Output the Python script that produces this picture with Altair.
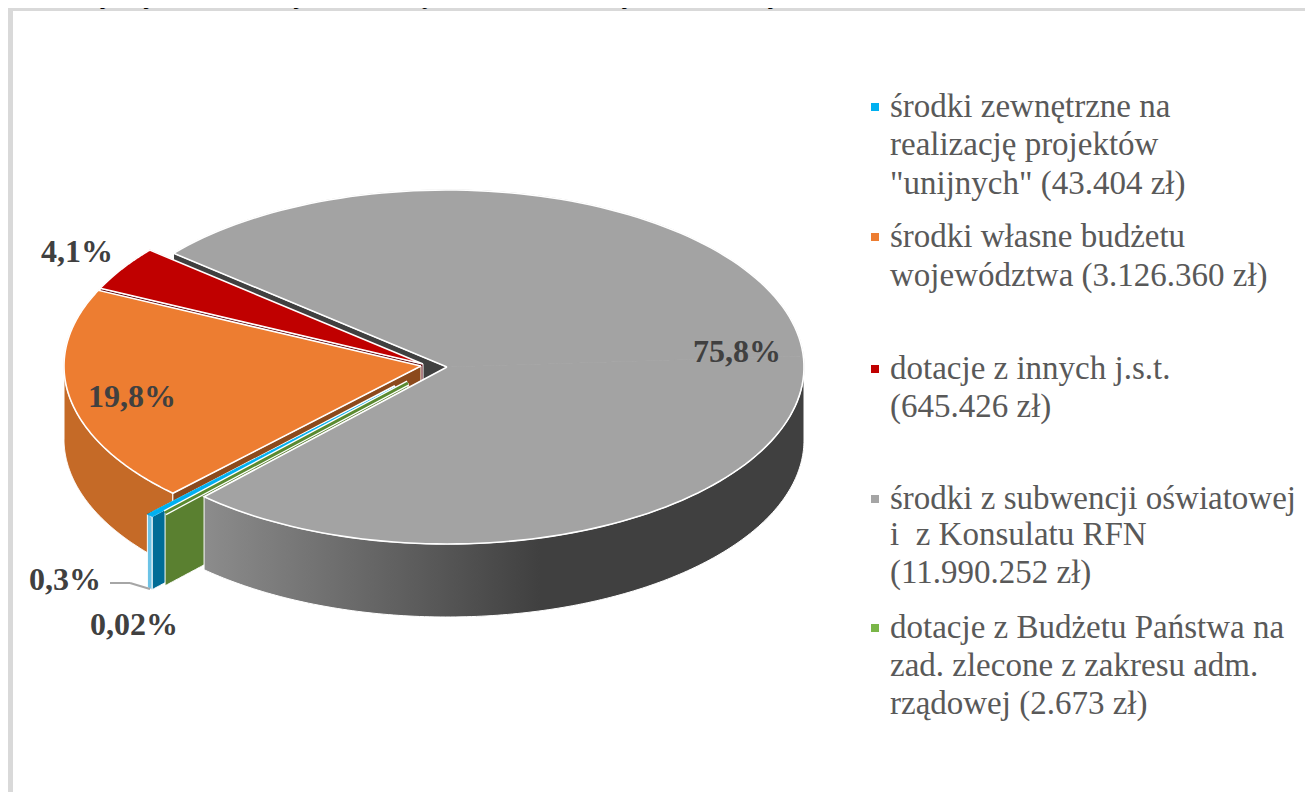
import math
import numpy as np
import pandas as pd
import altair as alt

# ---- data ----
slice_names = ["subwencja", "zagraniczne", "unijne", "wlasne", "jst"]
shares = [75.8, 0.02, 0.3, 19.8, 4.1]
pct_labels = ["75,8%", "19,8%", "4,1%", "0,3%", "0,02%"]
legend_lines = [
    ["środki zewnętrzne na", "realizację projektów", "\"unijnych\" (43.404 zł)"],
    ["środki własne budżetu", "województwa (3.126.360 zł)"],
    ["dotacje z innych j.s.t.", "(645.426 zł)"],
    ["środki z subwencji oświatowej", "i \u00a0z Konsulatu RFN", "(11.990.252 zł)"],
    ["dotacje z Budżetu Państwa na", "zad. zlecone z zakresu adm.", "rządowej (2.673 zł)"],
]
legend_colors = ["#00B0F0", "#ED7D31", "#C00000", "#A5A5A5", "#7AB648"]
caption = "Poniższy wykres obrazuje strukturę finansowania wydatków w tym obszarze."

# ---- layout ----
W, H = 1297, 784
RX, RY = 357.0, 177.0
CX, CY = 426.0, 358.0
DEPTH = 73.0 / RY
START = 310.0
FRAME = "#D9D9D9"


def pxu(x):
    return (x - 8 - CX) / RX


def pxv(y):
    return (CY - (y - 8)) / RY


xs = alt.Scale(domain=[-CX / RX, (W - CX) / RX], range=[0, W], nice=False, zero=False)
ys = alt.Scale(domain=[(CY - H) / RY, CY / RY], range=[H, 0], nice=False, zero=False)

# clockwise slice angles come from the shares
angles = {}
a = START
for name, s in zip(slice_names, shares):
    angles[name] = (a % 360, a % 360 + s * 3.6)
    a += s * 3.6

apex = {
    "subwencja": (pxu(447), pxv(367)),
    "zagraniczne": (pxu(408), pxv(383)),
    "unijne": (pxu(395.5), pxv(387)),
    "wlasne": (pxu(421), pxv(366)),
    "jst": (pxu(423), pxv(364)),
}


def rim(name, deg):
    au, av = apex[name]
    t = np.radians(deg)
    return au + np.sin(t), av + np.cos(t)


def arc(name, a0, a1, n=160):
    ts = np.linspace(a0, a1, n)
    return [rim(name, t) for t in ts]


def scan(poly):
    """Upper and lower edge of a convex outline for a left-to-right area mark."""
    pts = np.array(poly)
    grid = np.unique(np.concatenate([pts[:, 0], np.linspace(pts[:, 0].min(), pts[:, 0].max(), 200)]))
    closed = np.vstack([pts, pts[:1]])
    rows = []
    for x in grid:
        hits = []
        for (u0, v0), (u1, v1) in zip(closed[:-1], closed[1:]):
            lo, hi = min(u0, u1), max(u0, u1)
            if lo <= x <= hi:
                if u1 == u0:
                    hits += [v0, v1]
                else:
                    hits.append(v0 + (x - u0) / (u1 - u0) * (v1 - v0))
        if hits:
            rows.append({"u": float(x), "v": float(max(hits)), "v2": float(min(hits))})
    return pd.DataFrame(rows)


def area(df, fill, stroke="white", sw=1.0):
    return alt.Chart(df).mark_area(color=fill, stroke=stroke, strokeWidth=sw, interpolate="linear").encode(
        x=alt.X("u:Q", scale=xs, axis=None),
        y=alt.Y("v:Q", scale=ys, axis=None, stack=None),
        y2="v2:Q",
    )


def outline(points, color="white", sw=1.6):
    df = pd.DataFrame({"u": [p[0] for p in points], "v": [p[1] for p in points], "i": range(len(points))})
    return alt.Chart(df).mark_line(color=color, strokeWidth=sw, strokeJoin="miter", interpolate="linear").encode(
        x=alt.X("u:Q", scale=xs, axis=None),
        y=alt.Y("v:Q", scale=ys, axis=None),
        order="i:Q",
    )


def radial_wall(name, deg, fill):
    au, av = apex[name]
    ru, rv = rim(name, deg)
    return area(scan([(au, av), (ru, rv), (ru, rv - DEPTH), (au, av - DEPTH)]), fill)


def outer_wall(name, a0, a1, fill):
    pts = arc(name, a0, a1)
    df = pd.DataFrame({"u": [p[0] for p in pts], "v": [p[1] for p in pts]})
    df["v2"] = df["v"] - DEPTH
    df = df.sort_values("u")
    return area(df, fill)


def sector(name, a0, a1):
    return [apex[name]] + arc(name, a0, a1)


layers = []

# frame
layers.append(alt.Chart(pd.DataFrame({"k": [0]})).mark_rect(color=FRAME).encode(
    x=alt.value(0), x2=alt.value(W + 8), y=alt.value(0), y2=alt.value(3)))
layers.append(alt.Chart(pd.DataFrame({"k": [0]})).mark_rect(color=FRAME).encode(
    x=alt.value(0), x2=alt.value(5), y=alt.value(0), y2=alt.value(H)))

g0, g1 = angles["subwencja"]
z0, z1 = angles["zagraniczne"]
b0, b1 = angles["unijne"]
o0, o1 = angles["wlasne"]
r0, r1 = angles["jst"]

# back to front: grey radial wall, red, orange, blue, green, grey
layers.append(radial_wall("subwencja", g0, "#404040"))
layers.append(radial_wall("jst", r0, "#5A0008"))
poly = sector("jst", r0, r1)
layers.append(area(scan(poly), "#C00000", stroke="#C00000", sw=0.5))
layers.append(outline(poly + poly[:1]))

layers.append(outer_wall("wlasne", o0, 270, "#C56A27"))
layers.append(radial_wall("wlasne", o0, "#8C4A1C"))
poly = sector("wlasne", o0, o1)
layers.append(area(scan(poly), "#ED7D31", stroke="#ED7D31", sw=0.5))
layers.append(outline(poly + poly[:1]))

layers.append(outer_wall("unijne", b0, b1, "#6CC3E6"))
layers.append(radial_wall("unijne", b0, "#006C96"))
poly = sector("unijne", b0, b1)
layers.append(outline([apex["unijne"], rim("unijne", (b0 + b1) / 2)], "white", 4.5))
layers.append(area(scan(poly), "#00B0F0", stroke="#00B0F0", sw=1))

layers.append(radial_wall("zagraniczne", z0, "#5A8030"))
layers.append(outline([apex["zagraniczne"], rim("zagraniczne", z0)], "white", 5.5))
layers.append(outline([apex["zagraniczne"], rim("zagraniczne", z0)], "#5A8A30", 3))

# grey: outer wall with its shading, then the face in two convex halves
grad = alt.Gradient(
    gradient="linear", x1=0, x2=1, y1=0, y2=0,
    stops=[alt.GradientStop(color="#8C8C8C", offset=0),
           alt.GradientStop(color="#404040", offset=0.56),
           alt.GradientStop(color="#404040", offset=1)],
)
layers.append(outer_wall("subwencja", 90, g1 - 360, grad))
gm = (g0 + g1) / 2
layers.append(area(scan(sector("subwencja", g0, gm)), "#A3A3A3", stroke="#A3A3A3", sw=0.8))
layers.append(area(scan(sector("subwencja", gm, g1)), "#A3A3A3", stroke="#A3A3A3", sw=0.8))
poly = sector("subwencja", g0, g1)
layers.append(outline(poly + poly[:1]))


def text(s, x, y, size, color, align="left", weight="normal", baseline="middle"):
    return alt.Chart(pd.DataFrame({"t": [s]})).mark_text(
        font="Liberation Serif", fontSize=size, color=color, align=align, baseline=baseline, fontWeight=weight,
    ).encode(x=alt.value(x - 8), y=alt.value(y - 8), text="t:N")


# leader of the 0,3% label
for x0, y0, x1, y1 in [(110, 583, 130, 583), (130, 583, 150, 589)]:
    layers.append(alt.Chart(pd.DataFrame({"k": [0]})).mark_rule(color="#A6A6A6", strokeWidth=2).encode(
        x=alt.value(x0 - 8), x2=alt.value(x1 - 8), y=alt.value(y0 - 8), y2=alt.value(y1 - 8)))

for s, (x, y) in zip(pct_labels, [(737, 352), (132, 397), (77, 252), (65, 580), (134, 625)]):
    layers.append(text(s, x, y, 32, "#404040", "center", "bold"))

legend_y = [[107, 145, 184], [237, 276], [369, 407], [499, 535, 573], [628, 666, 704]]
swatch_y = [107, 237, 369, 499, 628]
for lines, ys_, col, sy in zip(legend_lines, legend_y, legend_colors, swatch_y):
    layers.append(alt.Chart(pd.DataFrame({"k": [0]})).mark_rect(color=col).encode(
        x=alt.value(871 - 8), x2=alt.value(879 - 8), y=alt.value(sy - 4 - 8), y2=alt.value(sy + 4 - 8)))
    for line, y in zip(lines, ys_):
        layers.append(text(line, 890, y, 33, "#595959"))

layers.append(text(caption, 8, 3, 29.5, "#000000", baseline="alphabetic"))

chart = alt.layer(*layers).properties(
    width=W, height=H, padding=0, autosize=alt.AutoSizeParams(type="none"),
).configure_view(stroke=None).configure(background="white")

chart.save("out.html", embed_options={"renderer": "svg", "actions": False})
